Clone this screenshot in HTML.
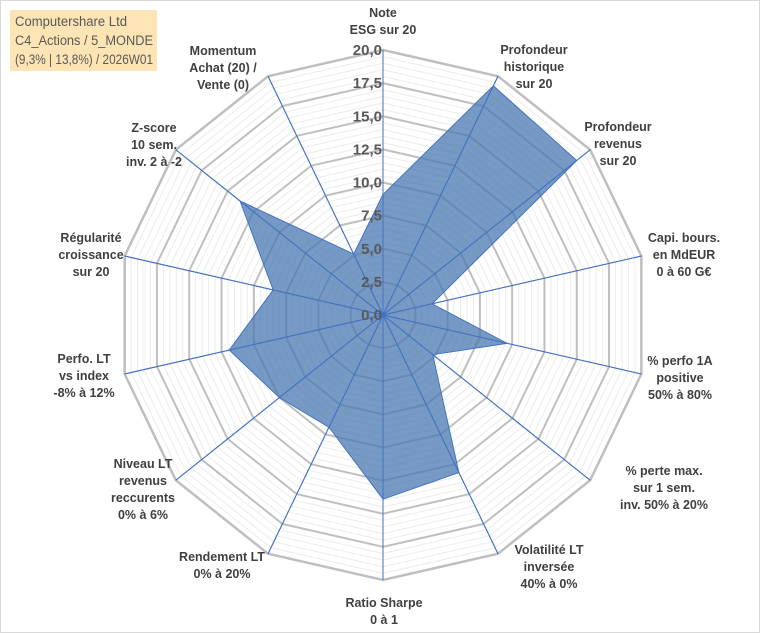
<!DOCTYPE html>
<html><head><meta charset="utf-8"><style>
html,body{margin:0;padding:0;background:#fff;}
svg{display:block;font-family:"Liberation Sans",sans-serif;}
</style></head><body>
<svg id="chart" width="760" height="633">
<rect x="0.5" y="0.5" width="759" height="632" fill="#fff" stroke="#d9d9d9"/>
<g id="grid"></g>
<g id="series"></g>
<g id="ticks"></g>
<g id="labels"></g>
<rect x="10" y="10" width="147" height="61" fill="#fce4b4"/>
<g font-size="13.5" fill="#595959">
<text x="15" y="26" textLength="112" lengthAdjust="spacingAndGlyphs">Computershare Ltd</text>
<text x="15" y="45" textLength="138" lengthAdjust="spacingAndGlyphs">C4_Actions / 5_MONDE</text>
<text x="15" y="64" textLength="138" lengthAdjust="spacingAndGlyphs">(9,3% | 13,8%) / 2026W01</text>
</g>
</svg>
<script>
const categories=[["Note","ESG sur 20"],["Profondeur","historique","sur 20"],["Profondeur","revenus","sur 20"],["Capi. bours.","en MdEUR","0 à 60 G€"],["% perfo 1A","positive","50% à 80%"],["% perte max.","sur 1 sem.","inv. 50% à 20%"],["Volatilité LT","inversée","40% à 0%"],["Ratio Sharpe","0 à 1"],["Rendement LT","0% à 20%"],["Niveau LT","revenus","reccurents","0% à 6%"],["Perfo. LT","vs index","-8% à 12%"],["Régularité","croissance","sur 20"],["Z-score","10 sem.","inv. 2 à -2"],["Momentum","Achat (20) /","Vente (0)"]];
const values=[9.1,19.2,18.7,3.8,9.6,4.8,13.2,13.9,9.4,10.0,11.9,8.5,13.8,5.1];
const tickLabels=["0,0","2,5","5,0","7,5","10,0","12,5","15,0","17,5","20,0"];
const maxV=20;
const labelPos=[[383,17],[534,54],[618,131],[684,242],[680,365],[664,475],[549,554],[384,607],[222,561],[143,468],[84,363],[91,242],[154,132],[223,55]];
const cx=383,cy=315,R=265,N=categories.length;
const NS="http://www.w3.org/2000/svg";
function ang(i){return -Math.PI/2+i*2*Math.PI/N;}
function pt(i,v){const r=v/maxV*R;return [cx+r*Math.cos(ang(i)),cy+r*Math.sin(ang(i))];}
function mk(t,a,p){const e=document.createElementNS(NS,t);for(const k in a)e.setAttribute(k,a[k]);p.appendChild(e);return e;}
const grid=document.getElementById('grid');
for(let v=0.5;v<=maxV+0.01;v+=0.5){
 const major=Math.abs(v/2.5-Math.round(v/2.5))<1e-6;
 const pts=[];for(let i=0;i<N;i++)pts.push(pt(i,v).join(','));
 const e=mk('polygon',{points:pts.join(' '),fill:'none',stroke:major?'#bfbfbf':'#ececec','stroke-width':major?(v===maxV?2.5:2):1},grid);
 
 
}
for(let i=0;i<N;i++){
 const p=pt(i,maxV);
 const e=mk('line',{x1:cx,y1:cy,x2:p[0],y2:p[1],stroke:'#4472c4','stroke-width':1},grid);
 
 
}
const ser=document.getElementById('series');
const sp=values.map((v,i)=>pt(i,v).join(',')).join(' ');
const poly=mk('polygon',{points:sp,fill:'#4a78b0','fill-opacity':0.75,stroke:'#4472c4','stroke-width':1},ser);


for(let i=0;i<N;i++){
 const p=pt(i,maxV);
 const e=mk('line',{x1:cx,y1:cy,x2:p[0],y2:p[1],stroke:'#4472c4','stroke-width':1},ser);
 
 
}
const tk=document.getElementById('ticks');
tickLabels.forEach((t,k)=>{
 const v=k*2.5;
 const e=mk('text',{x:cx-1,y:cy-v/maxV*R+5,'text-anchor':'end','font-size':15,'font-weight':'bold',fill:'#595959'},tk);
 e.textContent=t;
 
 
});
const lg=document.getElementById('labels');
categories.forEach((lines,i)=>{
 const x=labelPos[i][0],y=labelPos[i][1];
 const g=mk('text',{'text-anchor':'middle','font-size':12.5,'font-weight':'bold',fill:'#404040'},lg);
 
 
 lines.forEach((l,j)=>{const ts=mk('tspan',{x:x,y:y+j*17},g);ts.textContent=l;});
});
</script>
</body></html>
